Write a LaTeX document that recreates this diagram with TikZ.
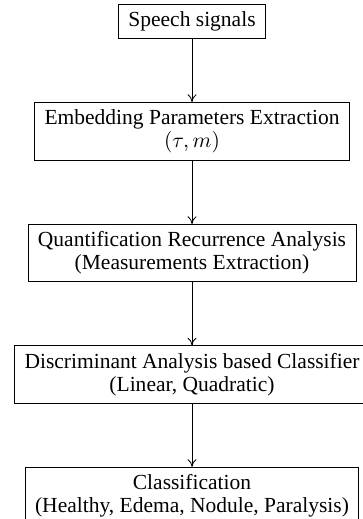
\documentclass[tikz,border=0pt]{standalone}
\usepackage{amsmath}
\usepackage{fontspec}
\setmainfont{Liberation Serif}
\usetikzlibrary{positioning,arrows.meta}

\begin{document}
\begin{tikzpicture}[
            block/.style={draw, align=center, inner xsep=4.6pt, inner ysep=3.3pt,
                font=\fontsize{10}{10.8}\selectfont},
            >={To[length=3.6pt,width=4.2pt]},
            node distance=29.5pt
        ]
            % fixed page; the last two boxes run past its edges
            \useasboundingbox (-89.3pt,1.86pt) rectangle (79.5pt,-239.5pt);
            \node[block, anchor=north] (speech) at (0,0) {Speech signals};
            \node[block, below=of speech] (embed) {Embedding Parameters Extraction\\$(\tau, m)$};
            \node[block, below=of embed] (rqa) {Quantification Recurrence Analysis\\(Measurements Extraction)};
            \node[block, below=of rqa] (lda) {Discriminant Analysis based Classifier\\(Linear, Quadratic)};
            \node[block, below=of lda] (result) {Classification\\(Healthy, Edema, Nodule, Paralysis)};
            \draw[->] (speech) -- (embed);
            \draw[->] (embed) -- (rqa);
            \draw[->] (rqa) -- (lda);
            \draw[->] (lda) -- (result);
        \end{tikzpicture}
\end{document}
